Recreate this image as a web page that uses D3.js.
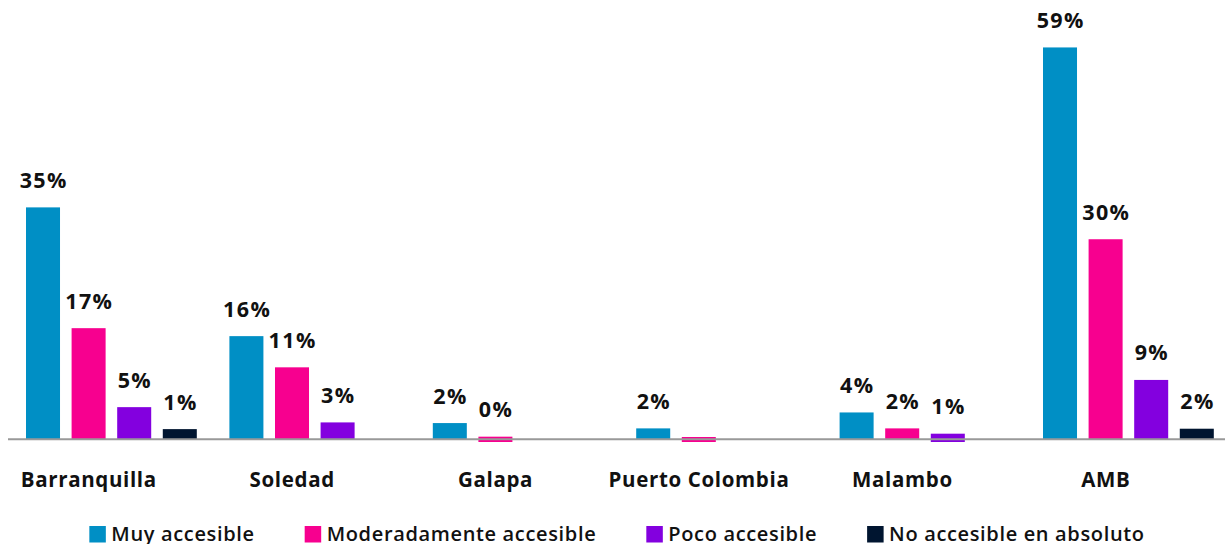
<!DOCTYPE html>
<html>
<head>
<meta charset="utf-8">
<script src="https://cdn.jsdelivr.net/npm/d3@7"></script>
<style>
  html, body { margin: 0; padding: 0; background: #fff; }
  svg { display: block; }
  text { font-family: "Open Sans", "Noto Sans", sans-serif; font-weight: 600; fill: #111; }
</style>
</head>
<body>
<svg id="chart" width="1225" height="544"></svg>
<script>
const categories = ["Barranquilla", "Soledad", "Galapa", "Puerto Colombia", "Malambo", "AMB"];
const seriesNames = ["Muy accesible", "Moderadamente accesible", "Poco accesible", "No accesible en absoluto"];
const muyAccesible = [34.9, 15.5, 2.4, 1.6, 4.0, 59.0];
const moderadamenteAccesible = [16.7, 10.8, 0.35, 0.3, 1.6, 30.1];
const pocoAccesible = [4.8, 2.5, null, null, 0.8, 8.9];
const noAccesible = [1.49, null, null, null, null, 1.55];
const seriesColors = ["#008fc5", "#f7008f", "#8300df", "#001530"];
// bars shown in the reference without a value label
const unlabeledBars = [["Puerto Colombia", "Moderadamente accesible"]];

const seriesValues = [muyAccesible, moderadamenteAccesible, pocoAccesible, noAccesible];

const svg = d3.select("#chart");
const W = 1225;

const y = d3.scaleLinear().domain([0, 60]).range([439, 40.8]);
const x0 = d3.scaleBand().domain(categories).range([-13.2, 1207.2]).padding(0);
const x1 = d3.scaleBand().domain(seriesNames).range([0, 170.8]).paddingInner(0.254).paddingOuter(0);
const groupOffset = -62.5;

const data = [];
categories.forEach((c, ci) => {
  seriesNames.forEach((s, si) => {
    const v = seriesValues[si][ci];
    if (v !== null && v !== undefined) data.push({ c, s, si, v });
  });
});

const groupStart = c => x0(c) + x0.bandwidth() / 2 + groupOffset;

// bars
svg.append("g").selectAll("rect").data(data).join("rect")
  .attr("x", d => groupStart(d.c) + x1(d.s))
  .attr("width", x1.bandwidth())
  .attr("y", d => y(d.v))
  .attr("height", d => (y(0) - y(d.v)) + (d.v < 1 ? 3 : 0))
  .attr("fill", d => seriesColors[d.si]);

// axis line
svg.append("line")
  .attr("x1", 8).attr("x2", W)
  .attr("y1", y(0) + 0.3).attr("y2", y(0) + 0.3)
  .attr("stroke", "#999").attr("stroke-width", 2);

// value labels
const fmt = v => Math.round(v) + "%";
const labeled = data.filter(d => !unlabeledBars.some(u => u[0] === d.c && u[1] === d.s));
svg.append("g").selectAll("text").data(labeled).join("text")
  .attr("x", d => groupStart(d.c) + x1(d.s) + x1.bandwidth() / 2 + 0.7)
  .attr("y", d => y(d.v) - 19.5)
  .attr("text-anchor", "middle")
  .style("font-size", "21.5px")
  .style("font-weight", 700)
  .style("letter-spacing", "1.4px")
  .text(d => fmt(d.v));

// category labels
svg.append("g").selectAll("text").data(categories).join("text")
  .attr("x", c => x0(c) + x0.bandwidth() / 2 + 0.3)
  .attr("y", 486.7)
  .attr("text-anchor", "middle")
  .style("font-size", "20.5px")
  .style("font-weight", 700)
  .style("letter-spacing", "0.65px")
  .text(c => c);

// legend
const legend = svg.append("g");
const sq = 16.5, sqGap = 5.5, itemGap = 50;
const items = legend.selectAll("g").data(seriesNames).join("g");
items.append("rect").attr("width", sq).attr("height", sq).attr("y", 526)
  .attr("fill", (d, i) => seriesColors[i]);
items.append("text").attr("x", sq + sqGap).attr("y", 540.5)
  .style("font-size", "20px").style("font-weight", 600)
  .style("letter-spacing", "0.65px")
  .text(d => d);
let widths = [];
items.each(function () { widths.push(sq + sqGap + this.querySelector("text").getComputedTextLength()); });
const total = d3.sum(widths) + itemGap * (widths.length - 1);
let cx = 617 - total / 2;
items.attr("transform", (d, i) => {
  const t = `translate(${cx},0)`;
  cx += widths[i] + itemGap;
  return t;
});
</script>
</body>
</html>
